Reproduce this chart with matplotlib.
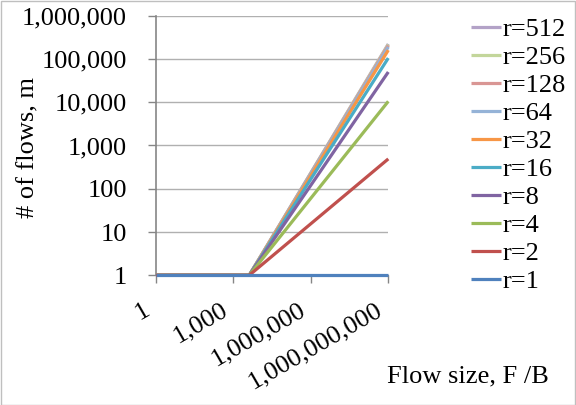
import matplotlib
matplotlib.use("Agg")
import matplotlib.pyplot as plt
from matplotlib.patches import Rectangle
from matplotlib.ticker import FixedLocator, FuncFormatter, NullLocator
import matplotlib.transforms as mtrans

plt.rcParams['font.family'] = ['Liberation Serif', 'DejaVu Serif']

flow_size = [1, 4096, 1e9]
r_labels = ["r=1", "r=2", "r=4", "r=8", "r=16", "r=32", "r=64", "r=128", "r=256", "r=512"]
end_flows = [1, 490, 10500, 50000, 105000, 160000, 190000, 205000, 215000, 222000]
colors = ["#4F81BD", "#C0504D", "#9BBB59", "#8064A2", "#4BACC6", "#F79646",
          "#95B3D7", "#D99694", "#C3D69B", "#B3A2C7"]
x_ticks = [1, 1e3, 1e6, 1e9]
y_ticks = [1, 10, 100, 1e3, 1e4, 1e5, 1e6]

W, H = 576, 405
fig = plt.figure(figsize=(W / 100, H / 100), dpi=100)
fig.patches.append(Rectangle((0.5 / W, 0.5 / H), 1 - 1.5 / W, 1 - 1.5 / H, transform=fig.transFigure,
                             fill=False, edgecolor="#BFBFBF", linewidth=1.0))

ax = fig.add_axes([156 / W, 1 - 275.3 / H, (388.3 - 156) / W, (275.3 - 15.7) / H])
ax.set_xscale('log')
ax.set_yscale('log')
ax.set_xlim(1, 1e9)
ax.set_ylim(1, 1e6)

handles = {}
for i in range(len(r_labels) - 1, -1, -1):
    ys = [1, 1, end_flows[i]]
    h, = ax.plot(flow_size, ys, color=colors[i], linewidth=2.3, solid_capstyle='butt',
                 clip_on=False, zorder=3)
    handles[i] = h

fmt = FuncFormatter(lambda v, p: f"{int(round(v)):,}")
ax.xaxis.set_major_locator(FixedLocator(x_ticks))
ax.yaxis.set_major_locator(FixedLocator(y_ticks))
ax.xaxis.set_minor_locator(NullLocator())
ax.yaxis.set_minor_locator(NullLocator())
ax.xaxis.set_major_formatter(fmt)
ax.yaxis.set_major_formatter(fmt)
ax.grid(axis='y', color='#B0B0B0', linewidth=1.0)
ax.set_axisbelow(True)
for s in ['top', 'right']:
    ax.spines[s].set_visible(False)
ax.spines['left'].set_color('#868686')
ax.spines['left'].set_linewidth(1.2)
ax.spines['bottom'].set_color('#868686')
ax.tick_params(axis='both', color='#868686', length=6, width=1.0, labelsize=19, direction='out')
ax.tick_params(axis='y', pad=15)
ax.tick_params(axis='x', pad=11, labelrotation=30)
shift = mtrans.ScaledTranslation(-2 / 100, 0, fig.dpi_scale_trans)
for lbl in ax.get_xticklabels():
    lbl.set_ha('right')
    lbl.set_va('top')
    lbl.set_transform(lbl.get_transform() + shift)

order = list(range(len(r_labels) - 1, -1, -1))
fig.legend([handles[i] for i in order], [r_labels[i] for i in order],
           loc='upper left', bbox_to_anchor=(471 / W, 1 - 17.7 / H), frameon=False,
           fontsize=19, handlelength=1.15, handletextpad=0.05, labelspacing=0.17,
           borderpad=0, borderaxespad=0)

fig.text(28 / W, 1 - 148 / H, "# of flows, m", rotation=90, ha='center', va='center', fontsize=19)
fig.text(387 / W, 1 - 382 / H, "Flow size, F /B", ha='left', va='baseline', fontsize=19)

fig.savefig("out.png", dpi=100)
